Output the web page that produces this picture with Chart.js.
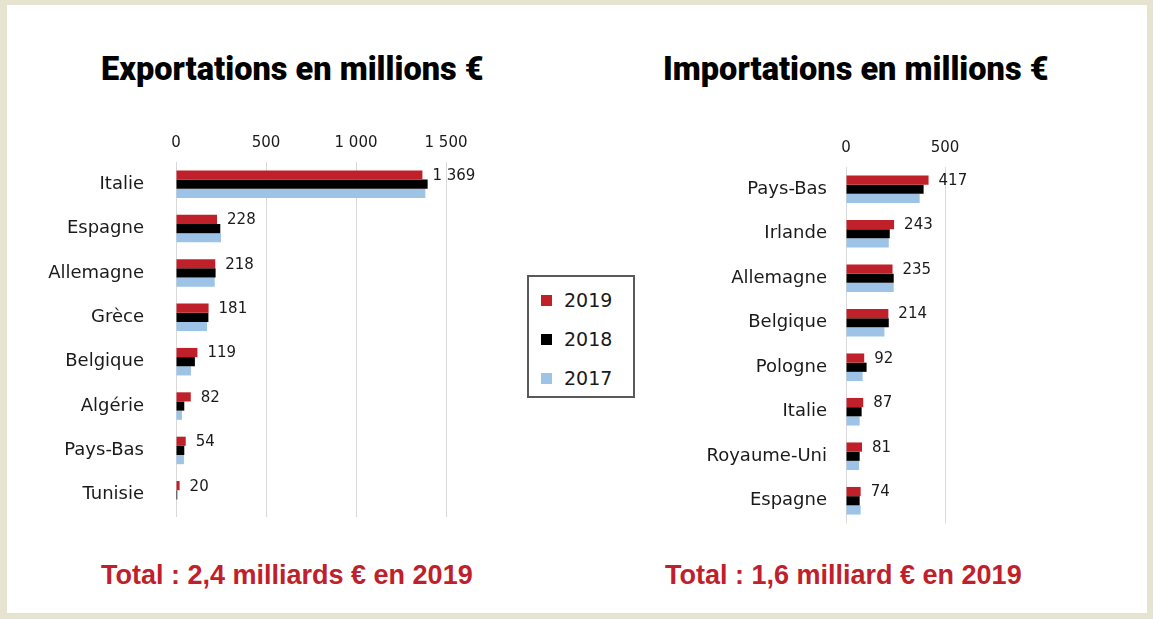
<!DOCTYPE html>
<html>
<head>
<meta charset="utf-8">
<script src="https://cdn.jsdelivr.net/npm/chart.js@4/dist/chart.umd.min.js"></script>
<style>
  html, body { margin:0; padding:0; }
  body { width:1153px; height:619px; background:#e6e3d0; position:relative; overflow:hidden; font-family:"DejaVu Sans", sans-serif; }
  #panel { position:absolute; left:7px; top:5px; width:1140px; height:608px; background:#ffffff; }
  .title { position:absolute; top:50px; font-family:"Roboto", sans-serif; font-weight:900; font-size:32.5px; color:#000; white-space:nowrap; }
  .total { position:absolute; top:560px; font-family:"Liberation Sans Narrow", "Liberation Sans", sans-serif; font-weight:bold; font-size:27px; color:#c0202a; white-space:nowrap; }
  canvas { position:absolute; }
  #legend { position:absolute; left:527px; top:275px; width:104px; height:119px; border:2px solid #595959; }
  .li { position:absolute; left:12px; font-size:19px; color:#1a1a1a; line-height:22px; }
  .sw { position:absolute; left:0; top:6px; width:11px; height:11px; }
  .lt { position:absolute; left:23px; top:0; }
</style>
</head>
<body>
<div id="panel"></div>
<div class="title" id="t1" style="left:101px;">Exportations en millions €</div>
<div class="title" id="t2" style="left:663px;">Importations en millions €</div>
<canvas id="c1" width="480" height="410" style="left:20px; top:120px;"></canvas>
<canvas id="c2" width="380" height="410" style="left:640px; top:120px;"></canvas>
<div id="legend"></div>
<div class="total" style="left:101px;">Total : 2,4 milliards € en 2019</div>
<div class="total" style="left:665px;">Total : 1,6 milliard € en 2019</div>
<script>
// ---- data ----
const seriesLabels = ['2019', '2018', '2017'];
const seriesColors = ['#c0202a', '#000000', '#9dc3e6'];

const exportCategories = ['Italie', 'Espagne', 'Allemagne', 'Grèce', 'Belgique', 'Algérie', 'Pays-Bas', 'Tunisie'];
const export2019 = [1369, 228, 218, 181, 119, 82, 54, 20];
const export2018 = [1398, 246, 220, 180, 105, 46, 46, 7];
const export2017 = [1385, 250, 215, 172, 83, 33, 44, 0];
const exportTicks = [0, 500, 1000, 1500];

const importCategories = ['Pays-Bas', 'Irlande', 'Allemagne', 'Belgique', 'Pologne', 'Italie', 'Royaume-Uni', 'Espagne'];
const import2019 = [417, 243, 235, 214, 92, 87, 81, 74];
const import2018 = [392, 221, 241, 216, 104, 79, 69, 69];
const import2017 = [372, 216, 241, 194, 84, 69, 66, 74];
const importTicks = [0, 500];

function fmt(v) { return String(v).replace(/\B(?=(\d{3})+(?!\d))/g, ' '); }

// legend
const leg = document.getElementById('legend');
const legTops = [12, 51, 90];
seriesLabels.forEach((l, i) => {
  const d = document.createElement('div');
  d.className = 'li';
  d.style.top = legTops[i] + 'px';
  d.innerHTML = '<div class="sw" style="background:' + seriesColors[i] + '"></div><div class="lt">' + l + '</div>';
  leg.appendChild(d);
});

const valueLabels = {
  id: 'valueLabels',
  afterDatasetsDraw(chart) {
    const ctx = chart.ctx;
    const meta = chart.getDatasetMeta(0);
    const data = chart.data.datasets[0].data;
    ctx.save();
    ctx.font = '15px "DejaVu Sans"';
    ctx.fillStyle = '#1a1a1a';
    ctx.textAlign = 'left';
    ctx.textBaseline = 'middle';
    meta.data.forEach((bar, i) => {
      ctx.fillText(fmt(data[i]), bar.x + 10, bar.y + 1);
    });
    ctx.restore();
  }
};

function makeChart(id, cats, s19, s18, s17, ticks, yWidth, xHeight, labelPad, padRight, padBottom) {
  const max = ticks[ticks.length - 1];
  return new Chart(document.getElementById(id), {
    type: 'bar',
    data: {
      labels: cats,
      datasets: [s19, s18, s17].map((d, i) => ({
        label: seriesLabels[i], data: d, backgroundColor: seriesColors[i],
        categoryPercentage: 0.62, barPercentage: 1.0, borderWidth: 0
      }))
    },
    options: {
      indexAxis: 'y',
      responsive: false,
      animation: false,
      layout: { padding: { left: 0, right: padRight, top: 0, bottom: padBottom } },
      plugins: { legend: { display: false }, tooltip: { enabled: false } },
      scales: {
        x: {
          position: 'top', min: 0, max: max,
          afterBuildTicks: (s) => { s.ticks = ticks.map(v => ({ value: v })); },
          afterFit: (s) => { s.height = xHeight; s.paddingLeft = 0; s.paddingRight = 0; },
          grid: { color: '#d9d9d9', lineWidth: 1, drawTicks: false },
          border: { display: false },
          ticks: { font: { family: 'DejaVu Sans', size: 15 }, color: '#1a1a1a', padding: 10, maxRotation: 0, callback: (v) => fmt(v) }
        },
        y: {
          afterFit: (s) => { s.width = yWidth; s.paddingTop = 0; s.paddingBottom = 0; },
          grid: { display: false, drawTicks: false },
          border: { display: false },
          ticks: { font: { family: 'DejaVu Sans', size: 18 }, color: '#1a1a1a', padding: labelPad }
        }
      }
    },
    plugins: [valueLabels]
  });
}

makeChart('c1', exportCategories, export2019, export2018, export2017, exportTicks, 156, 42, 32, 54, 13);
makeChart('c2', importCategories, import2019, import2018, import2017, importTicks, 206, 47, 19, 75, 7);
</script>
</body>
</html>
